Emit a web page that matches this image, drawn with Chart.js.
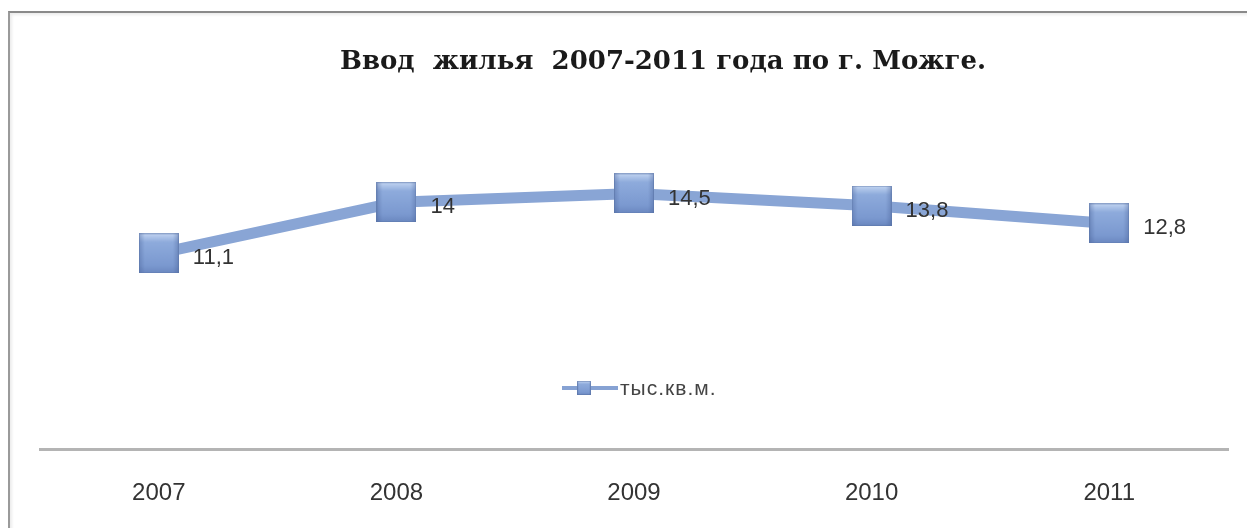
<!DOCTYPE html>
<html>
<head>
<meta charset="utf-8">
<script src="https://cdn.jsdelivr.net/npm/chart.js@4.4.0/dist/chart.umd.min.js"></script>
<style>
  html, body { margin: 0; padding: 0; background: #fff; }
  #wrap { position: relative; width: 1247px; height: 528px; overflow: hidden; }
  #frame {
    position: absolute; left: 8px; top: 11px; width: 1250px; height: 530px;
    border-left: 2px solid #9a9a9a; border-top: 2px solid #8a8a8a;
    box-shadow: inset 2px 2px 3px rgba(0,0,0,0.08);
  }
  canvas { position: absolute; left: 0; top: 0; }
</style>
</head>
<body>
<div id="wrap">
  <div id="frame"></div>
  <canvas id="myChart" width="1247" height="528"></canvas>
</div>
<script>
const years = ['2007', '2008', '2009', '2010', '2011'];
const housing = [11.1, 14, 14.5, 13.8, 12.8];
const seriesName = 'тыс.кв.м.';
const chartTitle = 'Ввод  жилья  2007-2011 года по г. Можге.';

// glossy square marker
function makeMarker(size) {
    const c = document.createElement('canvas');
    c.width = size; c.height = size;
    const g = c.getContext('2d');
    const grad = g.createLinearGradient(0, 0, 0, size);
    grad.addColorStop(0, '#c3d5f2');
    grad.addColorStop(0.22, '#8eabdc');
    grad.addColorStop(0.8, '#7b99d0');
    grad.addColorStop(1, '#6a87bf');
    g.fillStyle = grad;
    g.fillRect(0, 0, size, size);
    const side = g.createLinearGradient(0, 0, size, 0);
    side.addColorStop(0, 'rgba(70,95,150,0.4)');
    side.addColorStop(0.15, 'rgba(70,95,150,0)');
    side.addColorStop(0.85, 'rgba(70,95,150,0)');
    side.addColorStop(1, 'rgba(70,95,150,0.4)');
    g.fillStyle = side;
    g.fillRect(0, 0, size, size);
    g.strokeStyle = 'rgba(90,115,165,0.5)';
    g.lineWidth = 1;
    g.strokeRect(0.5, 0.5, size - 1, size - 1);
    return c;
}
const marker = makeMarker(40);
const legendMarker = makeMarker(14);

const titleDraw = {
    id: 'titleDraw',
    afterDraw(chart) {
        const ctx = chart.ctx;
        ctx.save();
        ctx.font = 'bold 26px "DejaVu Serif", "Liberation Serif", serif';
        ctx.fillStyle = '#1a1a1a';
        ctx.textAlign = 'center';
        ctx.textBaseline = 'middle';
        ctx.fillText(chartTitle, 663, 62);
        ctx.restore();
    }
};

const valueLabels = {
    id: 'valueLabels',
    afterDatasetsDraw(chart) {
        const ctx = chart.ctx;
        const meta = chart.getDatasetMeta(0);
        ctx.save();
        ctx.font = '22px "Liberation Sans", Arial, sans-serif';
        ctx.fillStyle = '#333';
        ctx.textBaseline = 'middle';
        ctx.textAlign = 'left';
        meta.data.forEach((pt, i) => {
            const txt = String(housing[i]).replace('.', ',');
            ctx.fillText(txt, pt.x + 34, pt.y + 5);
        });
        ctx.restore();
    }
};

const innerLegend = {
    id: 'innerLegend',
    afterDraw(chart) {
        const ctx = chart.ctx;
        const y = 388;
        ctx.save();
        ctx.strokeStyle = '#86a2d3';
        ctx.lineWidth = 4;
        ctx.beginPath();
        ctx.moveTo(562, y);
        ctx.lineTo(618, y);
        ctx.stroke();
        ctx.drawImage(legendMarker, 577, y - 7);
        ctx.font = '21px "Liberation Sans", Arial, sans-serif';
        ctx.letterSpacing = '1px';
        ctx.fillStyle = '#444';
        ctx.textBaseline = 'middle';
        ctx.fillText(seriesName, 620, y + 1);
        ctx.restore();
    }
};

const ctx = document.getElementById('myChart').getContext('2d');
const myChart = new Chart(ctx, {
    type: 'line',
    data: {
        labels: years,
        datasets: [
            {
                label: seriesName,
                data: housing,
                borderColor: '#89a5d5',
                borderWidth: 11,
                pointStyle: marker,
                pointRadius: 20,
                pointHoverRadius: 20,
                fill: false,
                tension: 0
            }
        ]
    },
    options: {
        responsive: false,
        animation: false,
        layout: { autoPadding: false, padding: { left: 40, right: 19, top: 167, bottom: 0 } },
        plugins: {
            legend: { display: false },
            tooltip: { enabled: false },
            title: { display: false }
        },
        scales: {
            x: {
                offset: true,
                grid: { display: false, drawTicks: false },
                border: { display: true, color: '#b4b4b4', width: 3 },
                ticks: {
                    color: '#333',
                    font: { family: '"Liberation Sans", Arial, sans-serif', size: 24 },
                    padding: 30
                },
                afterFit(scale) {
                    scale.height = 79;
                    scale.paddingLeft = 0;
                    scale.paddingRight = 0;
                }
            },
            y: {
                display: false,
                min: 0,
                max: 16
            }
        }
    },
    plugins: [valueLabels, innerLegend, titleDraw]
});
</script>
</body>
</html>
